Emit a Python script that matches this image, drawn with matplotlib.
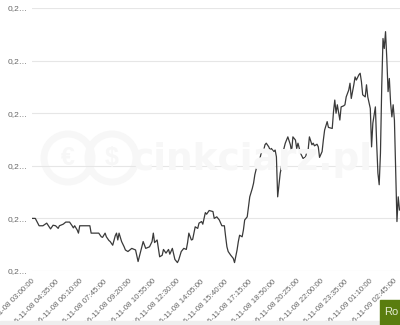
import matplotlib
matplotlib.use("Agg")
import matplotlib.pyplot as plt
from matplotlib.patches import Rectangle, Ellipse
from datetime import datetime, timedelta

# ---- data ----
times = ["03:00","03:15","03:30","03:45","04:00","04:15","04:25","04:35","04:45","04:50",
"05:05","05:15","05:30","05:40","05:45","05:50","06:00","06:05","06:10","06:50",
"06:55","07:25","07:35","07:40","07:50","07:55","08:05","08:10","08:20","08:30",
"08:35","08:40","08:45","08:55","09:05","09:10","09:20","09:35","09:50","10:00",
"10:10","10:20","10:30","10:45","10:55","11:00","11:05","11:15","11:25","11:35",
"11:40","11:50","12:00","12:05","12:15","12:25","12:35","12:40","12:50","13:00",
"13:10","13:15","13:20","13:30","13:35","13:45","13:55","14:00","14:10","14:15",
"14:25","14:30","14:40","14:55","15:00","15:10","15:20","15:30","15:40","15:45",
"15:50","15:55","16:05","16:15","16:20","16:30","16:35","16:40","16:50","16:55",
"17:00","17:10","17:15","17:20","17:30","17:35","17:40","17:45","17:55","18:00",
"18:05","18:15","18:20","18:25","18:35","18:40","18:45","18:55","19:00","19:05",
"19:10","19:20","19:25","19:30","19:40","19:45","19:50","20:00","20:05","20:10",
"20:20","20:25","20:30","20:40","20:50","21:00","21:05","21:10","21:15","21:25",
"21:30","21:35","21:45","21:50","21:55","22:05","22:10","22:15","22:25","22:30",
"22:45","22:50","22:55","23:00","23:05","23:15","23:20","23:30","23:35","23:40",
"23:50","23:55","00:00","00:10","00:15","00:20","00:30","00:35","00:40","00:45",
"00:55","01:00","01:05","01:15","01:20","01:25","01:35","01:40","01:45","01:50",
"01:55","02:00","02:05","02:10","02:15","02:20","02:25","02:30","02:35","02:40",
"02:45","02:50","02:55","03:00","03:05","03:10"]

rates = [0.25600,0.25600,0.25586,0.25586,0.25591,0.25580,0.25587,0.25586,0.25581,0.25586,
0.25589,0.25593,0.25593,0.25586,0.25582,0.25586,0.25578,0.25572,0.25586,0.25586,
0.25572,0.25572,0.25565,0.25564,0.25572,0.25565,0.25558,0.25556,0.25549,0.25567,
0.25572,0.25559,0.25572,0.25556,0.25546,0.25540,0.25537,0.25543,0.25540,0.25518,
0.25537,0.25556,0.25543,0.25546,0.25556,0.25572,0.25554,0.25559,0.25527,0.25530,
0.25541,0.25534,0.25541,0.25532,0.25543,0.25522,0.25516,0.25521,0.25537,0.25543,
0.25541,0.25554,0.25572,0.25559,0.25560,0.25584,0.25581,0.25591,0.25594,0.25589,
0.25611,0.25608,0.25615,0.25613,0.25600,0.25603,0.25597,0.25586,0.25586,0.25565,
0.25546,0.25537,0.25530,0.25524,0.25516,0.25540,0.25556,0.25568,0.25565,0.25578,
0.25597,0.25603,0.25622,0.25641,0.25657,0.25667,0.25683,0.25693,0.25705,0.25714,
0.25724,0.25730,0.25740,0.25743,0.25736,0.25730,0.25733,0.25727,0.25730,0.25717,
0.25641,0.25686,0.25698,0.25724,0.25743,0.25749,0.25755,0.25740,0.25727,0.25755,
0.25749,0.25733,0.25743,0.25724,0.25714,0.25717,0.25727,0.25730,0.25755,0.25740,
0.25743,0.25738,0.25741,0.25736,0.25716,0.25727,0.25749,0.25768,0.25784,0.25773,
0.25771,0.25803,0.25825,0.25800,0.25816,0.25787,0.25812,0.25814,0.25816,0.25831,
0.25844,0.25857,0.25828,0.25854,0.25869,0.25863,0.25873,0.25876,0.25860,0.25835,
0.25831,0.25854,0.25831,0.25809,0.25736,0.25781,0.25812,0.25743,0.25686,0.25664,
0.25724,0.25850,0.25942,0.25923,0.25955,0.25904,0.25841,0.25866,0.25819,0.25793,
0.25816,0.25787,0.25692,0.25594,0.25641,0.25616]

tick_labels = ["2016-11-08 03:00:00","2016-11-08 04:35:00","2016-11-08 06:10:00",
"2016-11-08 07:45:00","2016-11-08 09:20:00","2016-11-08 10:55:00","2016-11-08 12:30:00",
"2016-11-08 14:05:00","2016-11-08 15:40:00","2016-11-08 17:15:00","2016-11-08 18:50:00",
"2016-11-08 20:25:00","2016-11-08 22:00:00","2016-11-08 23:35:00","2016-11-09 01:10:00",
"2016-11-09 02:45:00"]

y_ticks = [0.2550, 0.2560, 0.2570, 0.2580, 0.2590, 0.2600]
y_tick_text = "0,2\u2026"
button_text = "Ro"
watermark = "cinkciarz.pl"

# ---- build datetimes ----
day = datetime(2016, 11, 8)
prev = None
dts = []
for t in times:
    h, m = map(int, t.split(":"))
    mins = h * 60 + m
    if prev is not None and mins < prev:
        day += timedelta(days=1)
    prev = mins
    dts.append(day + timedelta(minutes=mins))
tick_pos = [datetime.strptime(s, "%Y-%m-%d %H:%M:%S") for s in tick_labels]

plt.rcParams['font.family'] = ['Liberation Sans', 'DejaVu Sans']

W, H = 400, 325
fig = plt.figure(figsize=(W / 100, H / 100), dpi=100)
fig.patch.set_facecolor('white')

# very faint watermark
wm_col = '#f7f7f7'
for cx, sym in [(68, "\u20ac"), (112, "$")]:
    fig.add_artist(Ellipse((cx / W, 1 - 158 / H), 48 / W, 48 / H, transform=fig.transFigure,
                           fill=False, lw=5, ec=wm_col, zorder=0))
    fig.text(cx / W, 1 - 158 / H, sym, fontsize=18, weight='bold', color=wm_col,
             ha='center', va='center', zorder=0)
fig.text(252 / W, 1 - 160 / H, watermark, fontsize=27, weight='bold', color=wm_col,
         ha='center', va='center', zorder=0, family='DejaVu Sans')

ax = fig.add_axes([31.5 / W, 54 / H, 368.5 / W, 263 / H])
ax.patch.set_alpha(0)
ax.plot(dts, rates, color='#3a3a3a', lw=0.9, zorder=3)

ax.set_xlim(datetime(2016, 11, 8, 3, 0), datetime(2016, 11, 8, 3, 0) + timedelta(minutes=1452))
ax.set_ylim(y_ticks[0], y_ticks[-1])
ax.set_yticks(y_ticks)
ax.set_yticklabels([y_tick_text] * len(y_ticks))
ax.set_xticks(tick_pos)
ax.set_xticklabels(tick_labels)
for lab in ax.get_xticklabels():
    lab.set_rotation(45)
    lab.set_ha('right')
    lab.set_va('top')
    lab.set_rotation_mode('anchor')
ax.tick_params(axis='x', length=0, pad=5, labelsize=5.7, labelcolor='#666666')
ax.tick_params(axis='y', length=0, pad=3, labelsize=6, labelcolor='#666666')
ax.grid(axis='y', color='#e6e6e6', lw=0.8)
ax.grid(axis='x', visible=False)
for s in ax.spines.values():
    s.set_visible(False)

# bottom band and green button
fig.add_artist(Rectangle((0, 0), 1, 4 / H, transform=fig.transFigure, color='#eeeeee', zorder=5))
fig.add_artist(Rectangle((380 / W, 0), 30 / W, 25 / H, transform=fig.transFigure,
                         color='#5a7d0f', zorder=6))
fig.text(384 / W, 1 - 312 / H, button_text, fontsize=8, color='#e4ecd2', ha='left',
         va='center', zorder=7)

fig.savefig("out.png", dpi=100)
